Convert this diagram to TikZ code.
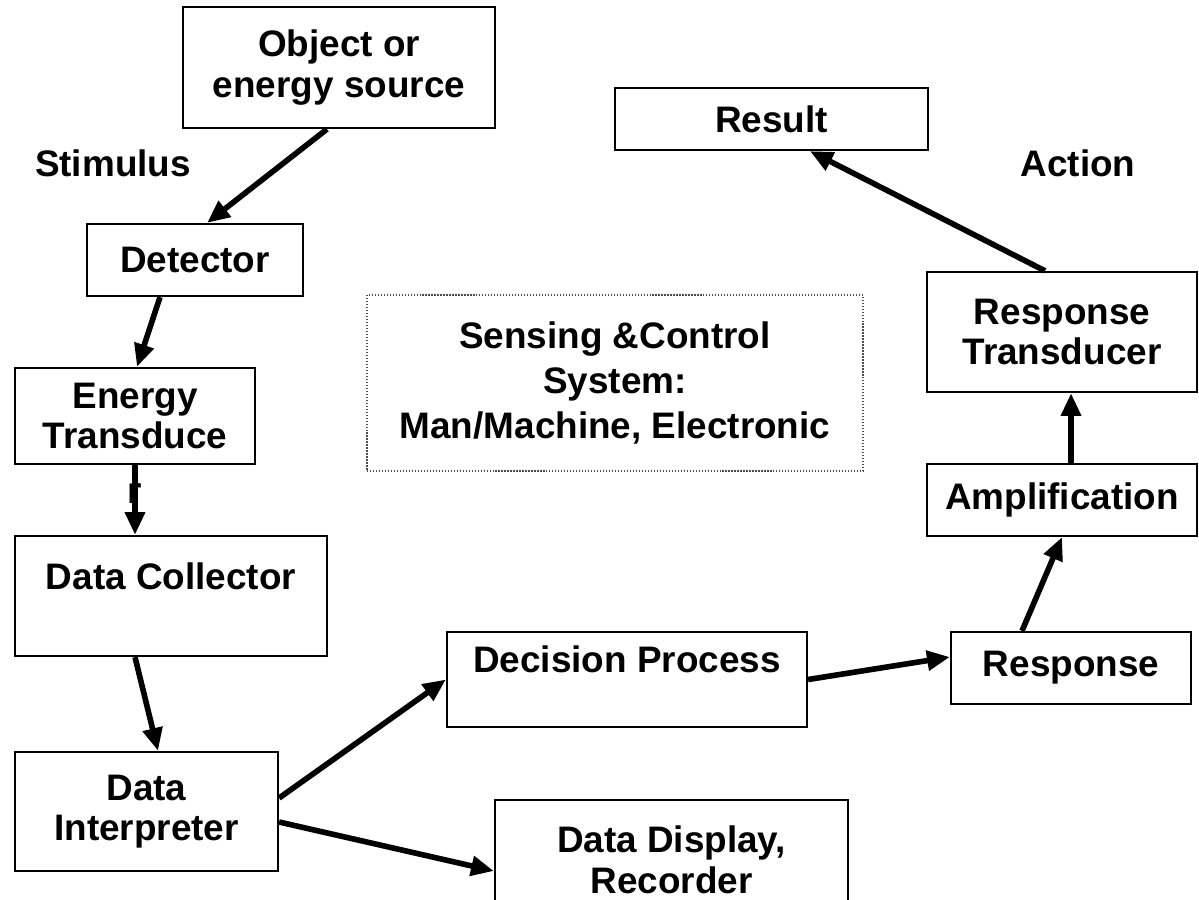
\documentclass[tikz,border=0pt]{standalone}
\usepackage{fontspec}
\setmainfont{Liberation Sans}
\usepackage{tikz}
\usetikzlibrary{arrows.meta}

\tikzset{
  blk/.style={draw, line width=1.3pt, align=center, inner sep=0pt},
  arr/.style={line width=3.2pt, -{Triangle[length=13pt,width=11pt]}},
  every node/.style={font=\fontsize{21}{23}\selectfont\bfseries}
}

\begin{document}
\begin{tikzpicture}[x=0.02cm, y=-0.02cm]

    \useasboundingbox (0,0) rectangle (1199,899);
    \clip (0,0) rectangle (1199,899);

    % sensing side
    \node[blk, minimum width=6.24cm, minimum height=2.42cm] (obj) at (339,67.5) {Object or\\energy source};
    \node[blk, minimum width=4.32cm, minimum height=1.44cm] (det) at (195,260) {Detector};
    \node[blk, minimum width=4.8cm, minimum height=1.92cm,
          label={[inner sep=0pt, label distance=0.36cm]below:r}] (etr) at (135,416) {Energy\\Transduce};
    \node[blk, minimum width=6.24cm, minimum height=2.4cm] (dcol) at (171,596) {Data Collector\\\mbox{}};
    \node[blk, minimum width=5.26cm, minimum height=2.38cm] (dint) at (146.5,811.5) {Data\\Interpreter};
    \node[blk, minimum width=7.2cm, minimum height=1.9cm] (dec) at (627,679.5) {Decision Process\\\mbox{}};
    \node[blk, minimum width=7.06cm, minimum height=2.4cm] (disp) at (671.5,860) {Data Display,\\Recorder};

    % control side
    \node[blk, minimum width=4.8cm, minimum height=1.44cm] (resp) at (1071,668) {Response};
    \node[blk, minimum width=5.4cm, minimum height=1.44cm] (amp) at (1062,500) {Amplification};
    \node[blk, minimum width=5.4cm, minimum height=2.4cm] (rtr) at (1062,332) {Response\\Transducer};
    \node[blk, minimum width=6.26cm, minimum height=1.24cm] (res) at (771.5,119) {Result};

    \node[draw=black!70, densely dotted, line width=0.7pt, align=center, inner sep=0pt,
          font=\fontsize{21}{25.5}\selectfont\bfseries,
          minimum width=9.92cm, minimum height=3.52cm] (sys) at (615,383)
          {Sensing \&Control\\System:\\Man/Machine, Electronic};

    \node (stim) at (113,163) {Stimulus};
    \node (act) at (1078,163) {Action};

    \draw[arr] (obj.south -| 327,0) -- (det.north -| 207,0);
    \draw[arr] (det.south -| 160,0) -- (etr.north -| 137,0);
    \draw[arr] (etr.south -| 135,0) -- (dcol.north -| 135,0);
    \draw[arr] (dcol.south -| 135,0) -- (dint.north -| 158,0);
    \draw[arr] (dint.east |- 0,798) -- (dec.west);
    \draw[arr] (dint.east |- 0,822) -- (disp.west |- 0,871);
    \draw[arr] (dec.east) -- (resp.west |- 0,657);
    \draw[arr] (resp.north -| 1022,0) -- (amp.south -| 1062,0);
    \draw[arr] (amp.north -| 1071,0) -- (rtr.south -| 1071,0);
    \draw[arr] (rtr.north -| 1045,0) -- (res.south -| 810,0);

\end{tikzpicture}
\end{document}
